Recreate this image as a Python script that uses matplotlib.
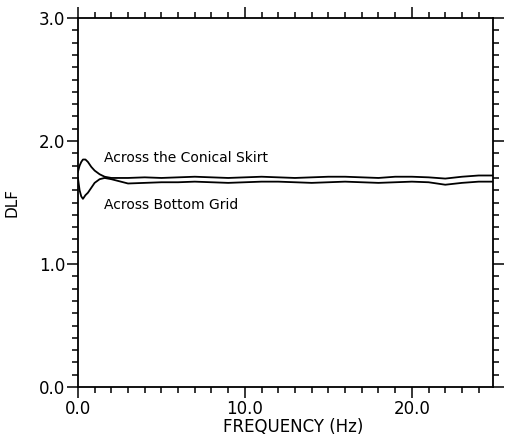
import matplotlib
matplotlib.use("Agg")
import matplotlib.pyplot as plt
from matplotlib.ticker import MultipleLocator, FormatStrFormatter

# frequenze (Hz) e DLF
freq = [0.0, 0.1, 0.2, 0.3, 0.45, 0.6, 0.8, 1.0, 1.3, 1.6, 2.0, 3.0, 4.0, 5.0,
        6.0, 7.0, 8.0, 9.0, 10.0, 11.0, 12.0, 13.0, 14.0, 15.0, 16.0, 17.0,
        18.0, 19.0, 20.0, 21.0, 22.0, 23.0, 24.0, 25.0]
dlf_skirt = [1.75, 1.80, 1.83, 1.85, 1.85, 1.83, 1.79, 1.76, 1.73, 1.71, 1.70,
             1.70, 1.705, 1.70, 1.705, 1.71, 1.705, 1.70, 1.705, 1.71, 1.705,
             1.70, 1.705, 1.71, 1.71, 1.705, 1.70, 1.71, 1.71, 1.705, 1.695,
             1.71, 1.72, 1.72]
dlf_grid = [1.70, 1.60, 1.55, 1.53, 1.56, 1.58, 1.62, 1.66, 1.69, 1.70, 1.69,
            1.655, 1.66, 1.665, 1.665, 1.67, 1.665, 1.66, 1.665, 1.67, 1.67,
            1.665, 1.66, 1.665, 1.67, 1.665, 1.66, 1.665, 1.67, 1.665, 1.645,
            1.66, 1.67, 1.67]

fig = plt.figure(figsize=(5.06, 4.41), dpi=100)
ax = fig.add_axes([0.154, 0.1224, 0.820, 0.8366])

ax.plot(freq, dlf_skirt, color='black', lw=1.3)
ax.plot(freq, dlf_grid, color='black', lw=1.3)

ax.text(1.55, 1.86, "Across the Conical Skirt", fontsize=10, ha='left', va='center')
ax.text(1.55, 1.48, "Across Bottom Grid", fontsize=10, ha='left', va='center')

ax.set_xlim(0, 24.85)
ax.set_ylim(0, 3.0)

ax.xaxis.set_major_locator(MultipleLocator(10))
ax.xaxis.set_minor_locator(MultipleLocator(1))
ax.yaxis.set_major_locator(MultipleLocator(1))
ax.yaxis.set_minor_locator(MultipleLocator(0.1))
ax.xaxis.set_major_formatter(FormatStrFormatter('%.1f'))
ax.yaxis.set_major_formatter(FormatStrFormatter('%.1f'))

ax.tick_params(which='both', direction='out', top=True, right=True,
               labeltop=False, labelright=False, width=1.1, labelsize=12, pad=1)
ax.tick_params(which='major', length=8)
ax.tick_params(which='minor', length=4.5)

for sp in ax.spines.values():
    sp.set_linewidth(1.3)

ax.set_xlabel("FREQUENCY (Hz)", fontsize=12, labelpad=0, x=0.52)
ax.set_ylabel("DLF", fontsize=11, labelpad=14)

fig.savefig("out.png", dpi=100)
